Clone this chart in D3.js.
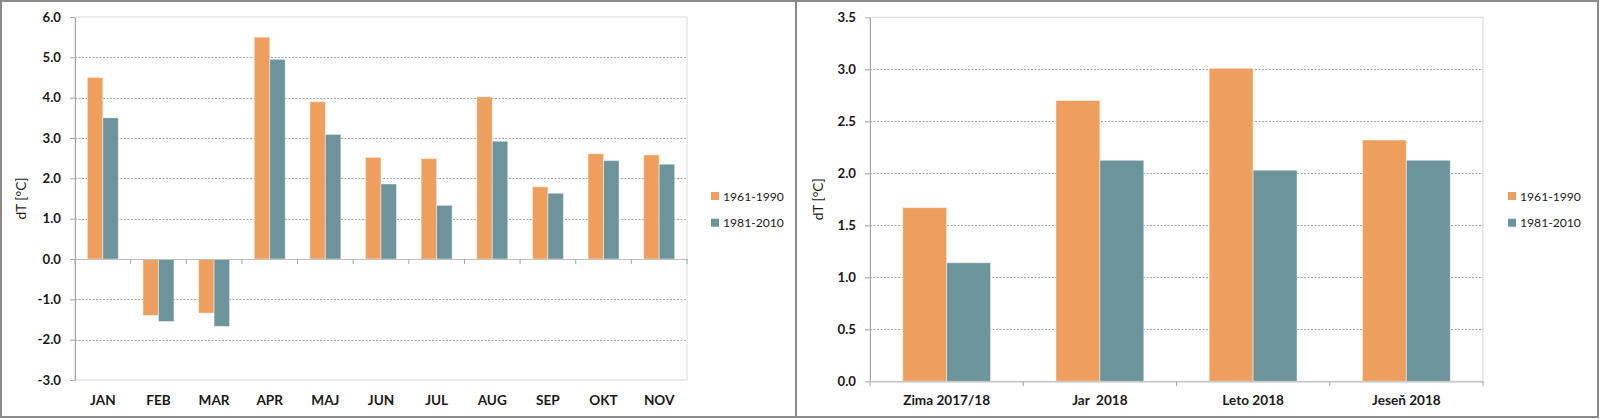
<!DOCTYPE html>
<html><head><meta charset="utf-8">
<script src="https://cdn.jsdelivr.net/npm/d3@7"></script>
<style>
body{margin:0;background:#fff;}
svg{display:block;font-family:Lato,"Open Sans",sans-serif;}
</style></head><body>
<svg id="c" width="1600" height="419"></svg>
<script>
const seriesNames = ["1961-1990", "1981-2010"];
const colors = ["#EE9F5E", "#6D939B"];

const monthCats = ["JAN","FEB","MAR","APR","MAJ","JUN","JUL","AUG","SEP","OKT","NOV"];
const month6190 = [4.5, -1.4, -1.34, 5.5, 3.9, 2.52, 2.49, 4.02, 1.79, 2.61, 2.58];
const month8110 = [3.5, -1.55, -1.67, 4.95, 3.09, 1.86, 1.33, 2.92, 1.63, 2.44, 2.35];
const monthTicks = [-3, -2, -1, 0, 1, 2, 3, 4, 5, 6];

const seasonCats = ["Zima 2017/18", "Jar  2018", "Leto 2018", "Jeseň 2018"];
const season6190 = [1.67, 2.7, 3.01, 2.32];
const season8110 = [1.14, 2.125, 2.03, 2.125];
const seasonTicks = [0, 0.5, 1, 1.5, 2, 2.5, 3, 3.5];

const svg = d3.select("#c");
const fmt = d => d3.format(".1f")(d).replace("\u2212", "-");

function fitSize(sample, target, weight){
  const t = svg.append("text").attr("font-size", 100).attr("font-weight", weight).text(sample);
  const w = t.node().getComputedTextLength();
  t.remove();
  return 100 * target / w;
}
const tickFS = fitSize("6.0", 18.5, "bold");
const catFS = fitSize("Zima 2017/18", 87, "bold");
const legFS = fitSize("1961-1990", 61, "normal");
const labFS = fitSize("dT [°C]", 42, "normal");

function drawChart(cfg){
  const g = svg.append("g");
  const x = d3.scaleBand().domain(cfg.cats).range([cfg.x0, cfg.x1]);
  const y = d3.scaleLinear().domain([cfg.ticks[0], cfg.ticks[cfg.ticks.length-1]]).range([cfg.yb, cfg.yt]);
  g.append("rect").attr("x", cfg.x0).attr("y", cfg.yt).attr("width", cfg.x1-cfg.x0).attr("height", cfg.yb-cfg.yt)
    .attr("fill","none").attr("stroke","#d9d9d9").attr("stroke-width",1);
  g.selectAll(".grid").data(cfg.ticks.filter(t => t!==0 && t!==cfg.ticks[0] && t!==cfg.ticks[cfg.ticks.length-1]))
    .enter().append("line")
    .attr("x1", cfg.x0).attr("x2", cfg.x1)
    .attr("y1", d => Math.round(y(d))+0.5).attr("y2", d => Math.round(y(d))+0.5)
    .attr("stroke","#8c8c8c").attr("stroke-width",0.8).attr("stroke-dasharray","2,1.5");
  const inner = d3.scaleBand().domain([0,1]).range([0, x.bandwidth()]).paddingOuter(cfg.pad).paddingInner(0);
  const data = [];
  cfg.cats.forEach((c,i) => {
    data.push({c, s:0, v:cfg.s1[i]});
    data.push({c, s:1, v:cfg.s2[i]});
  });
  g.selectAll(".bar").data(data).enter().append("rect")
    .attr("x", d => x(d.c) + inner(d.s))
    .attr("width", inner.bandwidth())
    .attr("y", d => y(Math.max(0, d.v)))
    .attr("height", d => Math.abs(y(d.v) - y(0)))
    .attr("fill", d => colors[d.s])
    .attr("stroke", "rgba(255,255,255,0.45)").attr("stroke-width", 1);
  const ya = d3.axisLeft(y).tickValues(cfg.ticks).tickFormat(fmt).tickSizeInner(5).tickSizeOuter(0).tickPadding(9);
  const yg = g.append("g").attr("transform", `translate(${cfg.x0},0)`).call(ya);
  yg.attr("font-family", null);
  yg.select(".domain").attr("stroke","#a6a6a6");
  yg.selectAll(".tick line").attr("stroke","#a6a6a6");
  yg.selectAll("text").attr("font-size", tickFS).attr("font-weight","bold").attr("fill","#1a1a1a");
  const xa = d3.axisBottom(x).tickSize(0).tickFormat("");
  const xg = g.append("g").attr("transform", `translate(0,${y(0)})`).call(xa);
  xg.select(".domain").attr("stroke","#bfbfbf").attr("stroke-width",1.2);
  g.selectAll(".ctick").data(d3.range(cfg.cats.length+1)).enter().append("line")
    .attr("x1", i => cfg.x0 + i*x.step()).attr("x2", i => cfg.x0 + i*x.step())
    .attr("y1", y(0)).attr("y2", y(0)+5).attr("stroke","#a6a6a6");
  g.selectAll(".clab").data(cfg.cats).enter().append("text")
    .attr("x", d => x(d) + x.bandwidth()/2).attr("y", cfg.labY)
    .attr("text-anchor","middle").attr("dominant-baseline","central")
    .attr("font-size", catFS).attr("font-weight","bold").attr("fill","#1a1a1a")
    .style("white-space","pre").text(d => d);
  g.append("text").attr("transform", `translate(${cfg.ylabX},${(cfg.yt+cfg.yb)/2}) rotate(-90)`)
    .attr("text-anchor","middle").attr("dominant-baseline","central")
    .attr("font-size", labFS).attr("fill","#1a1a1a").text("dT [°C]");
  seriesNames.forEach((n,i) => {
    const ly = cfg.legY + i*26.7;
    g.append("rect").attr("x", cfg.legX).attr("y", ly-4).attr("width",8).attr("height",8).attr("fill", colors[i]);
    g.append("text").attr("x", cfg.legX+12).attr("y", ly).attr("dominant-baseline","central")
      .attr("font-size", legFS).attr("fill","#1a1a1a").text(n);
  });
}

drawChart({cats: monthCats, s1: month6190, s2: month8110, ticks: monthTicks,
  x0: 75, x1: 687, yt: 17, yb: 380, pad: 0.795, labY: 400, ylabX: 20, legX: 711, legY: 196});
drawChart({cats: seasonCats, s1: season6190, s2: season8110, ticks: seasonTicks,
  x0: 870, x1: 1483, yt: 17.3, yb: 381.3, pad: 0.745, labY: 400, ylabX: 817, legX: 1508, legY: 196});

svg.append("rect").attr("x",1).attr("y",1).attr("width",1597).attr("height",416)
  .attr("fill","none").attr("stroke","#8a8a8a").attr("stroke-width",2);
svg.append("line").attr("x1",796).attr("x2",796).attr("y1",1).attr("y2",418)
  .attr("stroke","#8a8a8a").attr("stroke-width",2);
</script></body></html>
